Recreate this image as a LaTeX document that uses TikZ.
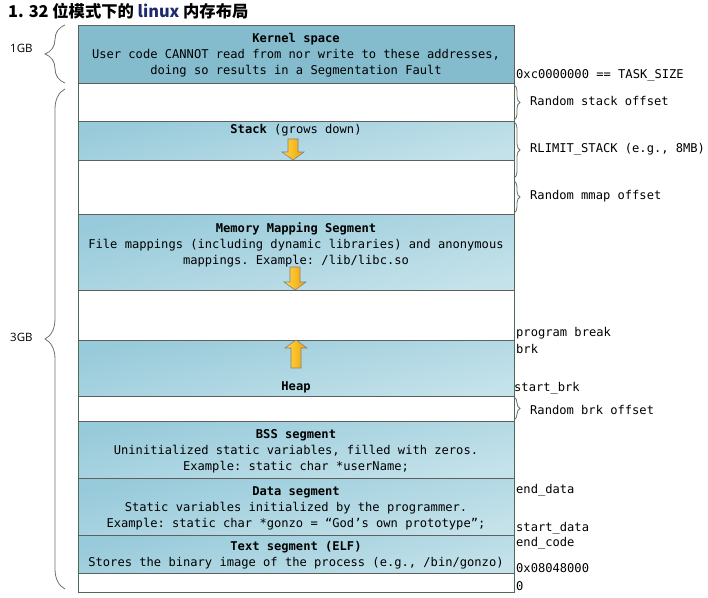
\documentclass[tikz,border=0pt]{standalone}
\usepackage{fontspec}
\setmainfont{Open Sans}
\setmonofont{DejaVu Sans Mono}
\newfontfamily\cjk{Noto Sans CJK SC}
\usetikzlibrary{decorations.pathreplacing}
\definecolor{boxA}{HTML}{97CADA}
\definecolor{boxB}{HTML}{C4E2EA}
\definecolor{kern}{HTML}{84BCCD}
\definecolor{segline}{HTML}{5F5F5F}
\definecolor{framec}{HTML}{4D6B52}
\definecolor{bracec}{HTML}{707070}
\definecolor{arrA}{HTML}{FFD84A}
\definecolor{arrB}{HTML}{F2A100}
\definecolor{arrline}{HTML}{808080}
\definecolor{navy}{HTML}{1F2A6E}
\begin{document}
\begin{tikzpicture}[x=1pt,y=-1pt,
  seg/.style={draw=segline, line width=0.9pt, top color=boxA, bottom color=boxB, shading angle=12},
  kseg/.style={draw=segline, line width=0.9pt, fill=kern},
  gapbox/.style={draw=segline, line width=0.9pt, fill=white},
  txt/.style={font=\fontsize{12.1}{16}\selectfont\ttfamily, align=center, inner sep=0pt},
  lab/.style={font=\fontsize{12.1}{14}\selectfont\ttfamily, anchor=west, inner sep=0pt},
  gb/.style={font=\fontsize{11.5}{13}\selectfont, anchor=west, inner sep=0pt},
  rbrace/.style={draw=bracec, line width=0.8pt, decorate, decoration={brace, amplitude=6pt}},
  lbrace/.style={draw=bracec, line width=0.8pt, decorate, decoration={brace, amplitude=20pt}},
  growarrow/.style={draw=arrline, line width=0.6pt, left color=arrA, right color=arrB},
]
\useasboundingbox (0,0) rectangle (708,597);

% title
\node[anchor=west, inner sep=0pt, font=\cjk\bfseries\fontsize{16.3}{19}\selectfont] (title) at (8,11)
  {1. 32 位模式下的 {\color{navy}linux} 内存布局};

% segments
\path[kseg]   (78,25)  rectangle (514,83);
\path[gapbox] (78,83)  rectangle (514,121);
\path[seg]    (78,121) rectangle (514,160);
\path[gapbox] (78,160) rectangle (514,214);
\path[seg]    (78,214) rectangle (514,290);
\path[gapbox] (78,290) rectangle (514,340);
\path[seg]    (78,340) rectangle (514,396);
\path[gapbox] (78,396) rectangle (514,421);
\path[seg]    (78,421) rectangle (514,478);
\path[seg]    (78,478) rectangle (514,535);
\path[seg]    (78,535) rectangle (514,573);
\path[gapbox] (78,573) rectangle (514,592);
\draw[framec, line width=0.9pt] (78,83) -- (78,592) -- (514,592) -- (514,83);

% growth arrows
\path[growarrow] (288,139) -- (298,139) -- (298,152) -- (304,152) -- (293,160) -- (282,152) -- (288,152) -- cycle;
\path[growarrow] (290,267) -- (300,267) -- (300,282) -- (306,282) -- (295,290) -- (284,282) -- (290,282) -- cycle;
\path[growarrow] (291,368) -- (301,368) -- (301,348) -- (307,348) -- (296,340) -- (285,348) -- (291,348) -- cycle;

% segment texts
\node[txt] (kerneltxt) at (296,55) {{\bfseries Kernel space}\\User code CANNOT read from nor write to these addresses,\\doing so results in a Segmentation Fault};
\node[txt] (stacktxt) at (296,130) {{\bfseries Stack} (grows down)};
\node[txt] (mmstxt) at (296,245) {{\bfseries Memory Mapping Segment}\\File mappings (including dynamic libraries) and anonymous\\mappings. Example: /lib/libc.so};
\node[txt] (heaptxt) at (296,387) {\bfseries Heap};
\node[txt] (bsstxt) at (296,451) {{\bfseries BSS segment}\\Uninitialized static variables, filled with zeros.\\Example: static char *userName;};
\node[txt] (datatxt) at (296,508) {{\bfseries Data segment}\\Static variables initialized by the programmer.\\Example: static char *gonzo = “God’s own prototype”;};
\node[txt] (texttxt) at (296,555) {{\bfseries Text segment (ELF)}\\Stores the binary image of the process (e.g., /bin/gonzo)};

% right braces
\coordinate (rb1a) at (514,85);  \coordinate (rb1b) at (514,120);
\coordinate (rb2a) at (514,122); \coordinate (rb2b) at (514,178);
\coordinate (rb3a) at (514,181); \coordinate (rb3b) at (514,213);
\coordinate (rb4a) at (514,397); \coordinate (rb4b) at (514,420);
\draw[rbrace] (rb1a) -- (rb1b);
\draw[rbrace] (rb2a) -- (rb2b);
\draw[rbrace] (rb3a) -- (rb3b);
\draw[rbrace] (rb4a) -- (rb4b);
\node[lab] (l-rso) at (530,101) {Random stack offset};
\node[lab] (l-rlim) at (530,149) {RLIMIT\_STACK (e.g., 8MB)};
\node[lab] (l-rmo) at (530,196) {Random mmap offset};
\node[lab] (l-rbo) at (530,410) {Random brk offset};

% address labels
\node[lab] (a-task) at (516,75) {0xc0000000 == TASK\_SIZE};
\node[lab] (a-pb) at (516,333) {program break};
\node[lab] (a-brk) at (516,349) {brk};
\node[lab] (a-sbrk) at (514,388) {start\_brk};
\node[lab] (a-ed) at (516,490) {end\_data};
\node[lab] (a-sd) at (516,528) {start\_data};
\node[lab] (a-ec) at (516,543) {end\_code};
\node[lab] (a-08) at (516,568) {0x08048000};
\node[lab] (a-0) at (516,586) {0};

% left braces
\coordinate (lb1a) at (65,83); \coordinate (lb1b) at (65,25);
\coordinate (lb2a) at (65,589); \coordinate (lb2b) at (65,89);
\draw[lbrace] (lb1a) -- (lb1b);
\draw[lbrace] (lb2a) -- (lb2b);
\node[gb] (gb1) at (10,48) {1GB};
\node[gb] (gb3) at (10,337) {3GB};
\end{tikzpicture}
\end{document}
